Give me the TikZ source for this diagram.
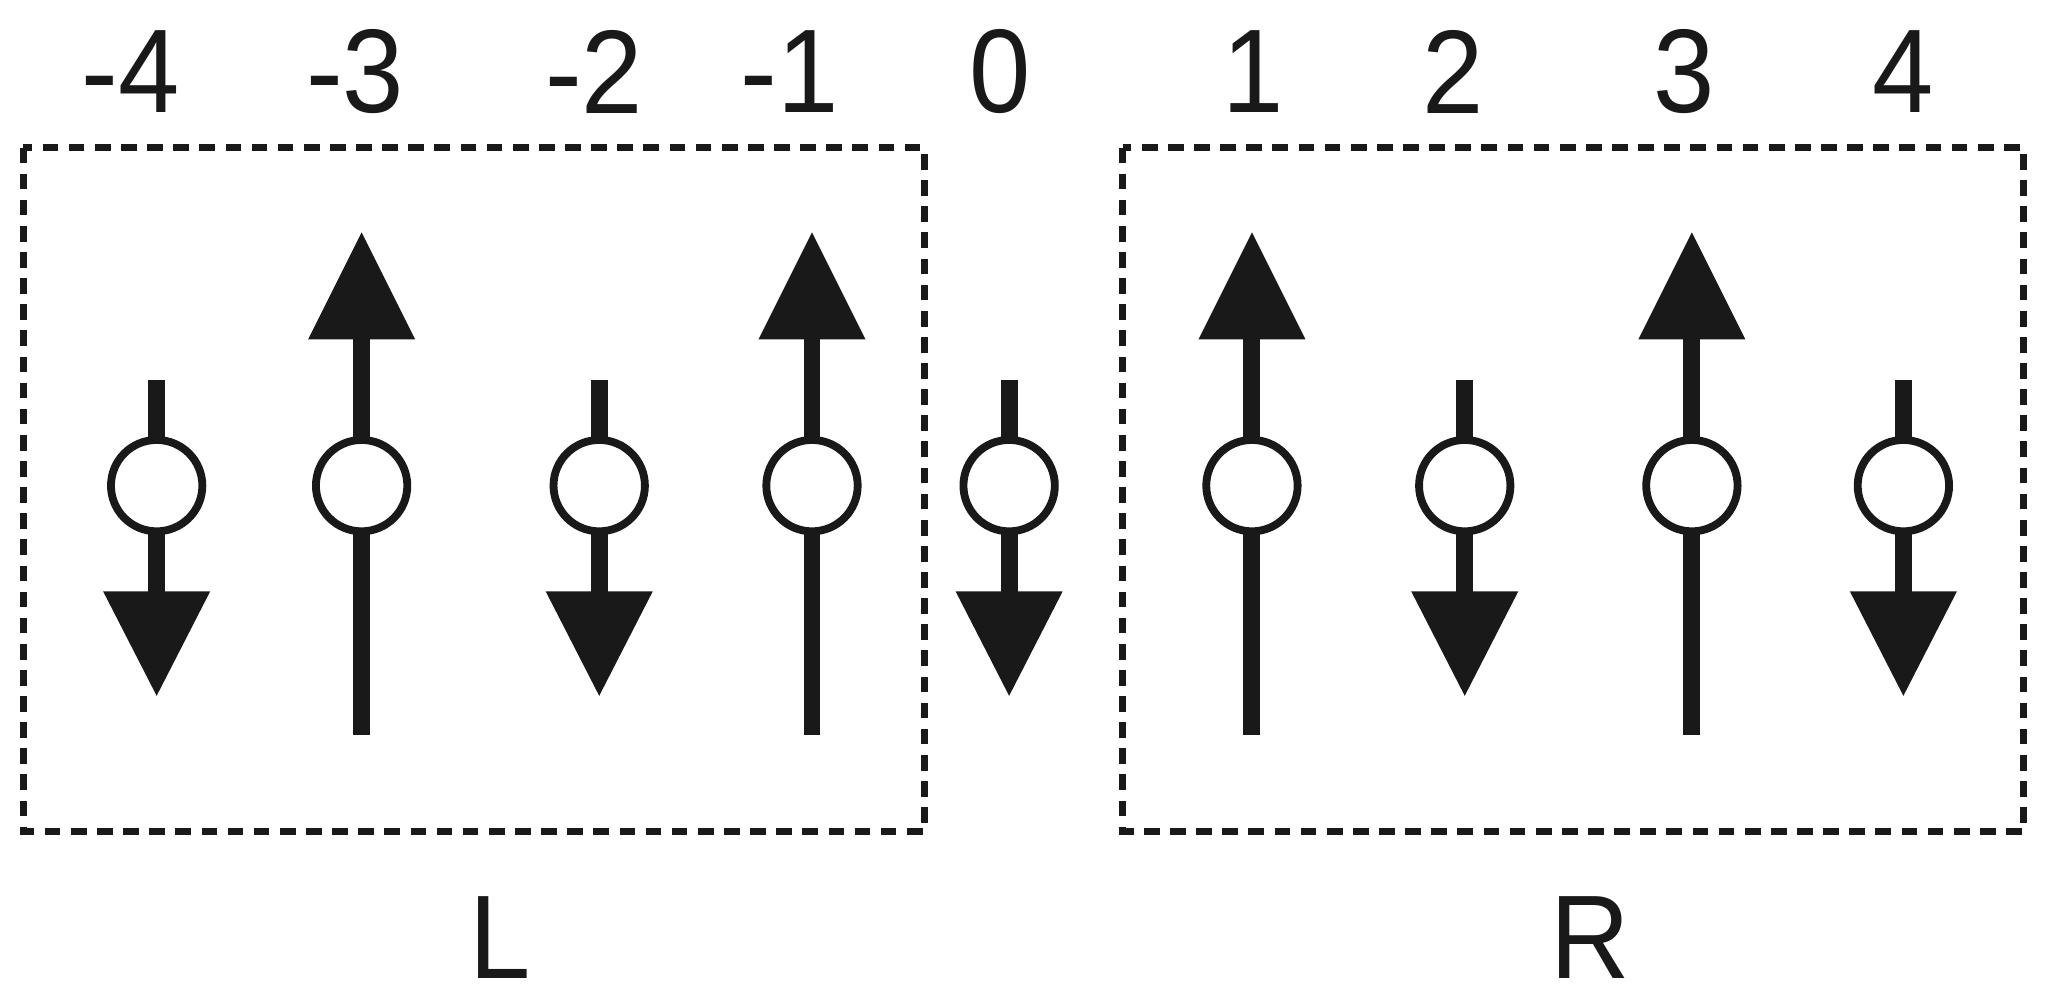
\documentclass[tikz,border=0pt]{standalone}
\usepackage{fontspec}
\setmainfont{Liberation Sans}
\begin{document}
\begin{tikzpicture}[x=0.01cm,y=-0.01cm,
  spin/.style={circle,draw=black!90,line width=6*0.01cm,fill=white,minimum size=70*0.01cm,inner sep=0pt},
  stem/.style={line width=13*0.01cm,black!90},
  tri/.style={fill=black!90},
  box/.style={draw=black!90,line width=5*0.01cm,dash pattern=on 0.12cm off 0.08cm},
  lbl/.style={font=\fontsize{24}{28}\selectfont,text=black!90,yscale=1.08}]
\useasboundingbox (0,0) rectangle (1568,770);
\draw[box] (18,113) rectangle (708,637);
\draw[box] (860,113) rectangle (1550,637);
\foreach \x/\t in {100/-4,272/-3,455/-2,605/-1,766/0,960/1,1113/2,1290/3,1458/4}
  \node[lbl] (n\t) at (\x,55) {\t};
\node[lbl] (L) at (383,718) {L};
\node[lbl] (R) at (1218,718) {R};
\foreach \x [count=\i] in {120,459,773,1122,1458} {
  \coordinate (dt\i) at (\x,291);
  \coordinate (db\i) at (\x,458);
  \draw[stem] (dt\i) -- (db\i);
  \fill[tri] (\x-41,453) -- (\x+41,453) -- (\x,533) -- cycle;
  \node[spin] (d\i) at (\x,372) {};
}
\foreach \x [count=\i] in {277,622,959,1296} {
  \coordinate (ub\i) at (\x,563);
  \coordinate (ut\i) at (\x,255);
  \draw[stem] (ub\i) -- (ut\i);
  \fill[tri] (\x-41,260) -- (\x+41,260) -- (\x,178) -- cycle;
  \node[spin] (u\i) at (\x,372) {};
}
\end{tikzpicture}
\end{document}
